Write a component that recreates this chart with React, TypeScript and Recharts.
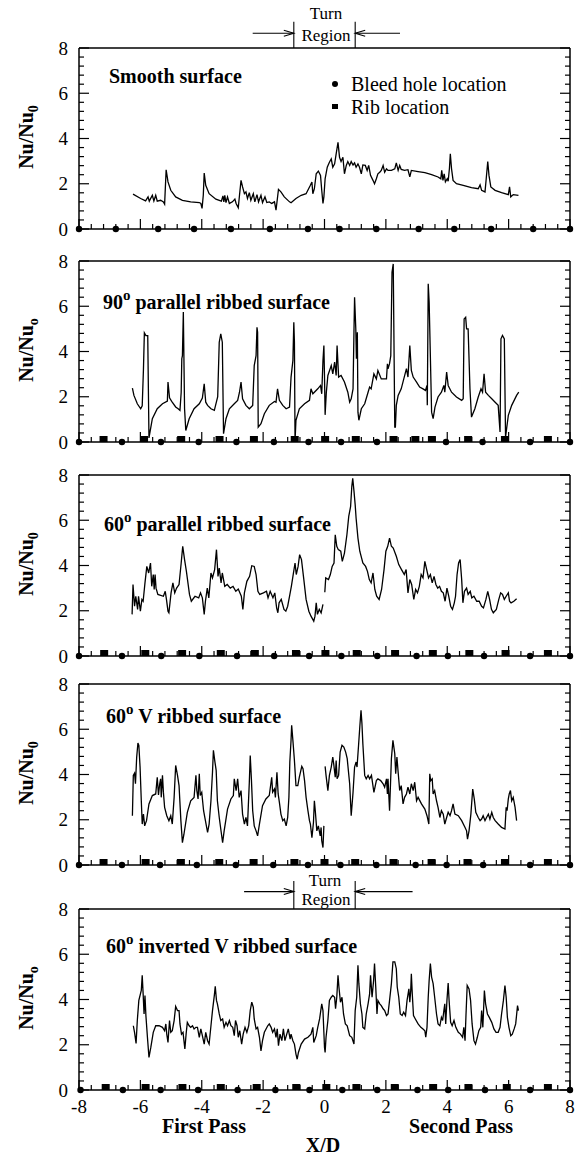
import React from "react";
import { ComposedChart, Line, Scatter, XAxis, YAxis, ReferenceLine } from "recharts";

const FONT = '"Liberation Serif", "Times New Roman", Times, serif';

const PAGE_W = 579;
const PAGE_H = 1157;
const LEFT = 79;
const RIGHT = 9;
const PLOT_H = 181;

const X_LABELS = [-8, -6, -4, -2, 0, 2, 4, 6, 8];
const Y_LABELS = [0, 2, 4, 6, 8];
// minor ticks every 0.4, long ticks every 2
const X_TICKS = Array.from({ length: 41 }, (_, i) => Math.round((-8 + i * 0.4) * 10) / 10);
const Y_TICKS = Array.from({ length: 21 }, (_, i) => Math.round(i * 0.4 * 10) / 10);

// Nu/Nu0 along X/D (null = break in the trace)
const SMOOTH = [
  [-6.24,1.54],[-5.99,1.35],[-5.83,1.24],[-5.75,1.42],[-5.71,1.23],[-5.61,1.49],[-5.56,1.24],[-5.5,1.49],[-5.45,1.23],[-5.34,1.27],[-5.25,1.2],[-5.21,1.1],[-5.16,2.62],[-5.1,2.08],[-5.01,1.71],[-4.85,1.42],[-4.63,1.27],[-4.36,1.2],[-4.08,1.17],[-4.03,1.13],[-3.99,0.91],[-3.95,1.49],[-3.92,2.47],[-3.87,1.93],[-3.76,1.56],[-3.54,1.32],[-3.36,1.23],[-3.31,1.46],[-3.28,1.2],[-3.25,1.49],[-3.21,1.17],[-3.16,1.42],[-3.1,1.13],[-3.0,1.2],[-2.92,1.32],[-2.88,1.13],[-2.81,0.94],[-2.77,1.49],[-2.72,2.15],[-2.67,1.86],[-2.61,1.56],[-2.56,1.64],[-2.51,1.35],[-2.45,1.61],[-2.4,1.27],[-2.32,1.56],[-2.27,1.2],[-2.2,1.52],[-2.15,1.2],[-2.07,1.49],[-2.02,1.17],[-1.94,1.42],[-1.88,1.17],[-1.8,1.2],[-1.72,1.13],[-1.63,1.2],[-1.58,0.83],[-1.5,1.75],[-1.42,1.64],[-1.31,1.42],[-1.14,1.2],[-1.09,1.16],[-0.93,1.35],[-0.76,1.49],[-0.6,1.56],[-0.46,1.93],[-0.41,2.08],[-0.38,1.56],[-0.33,1.78],[-0.27,2.44],[-0.2,2.56],[-0.13,2.37],[-0.09,1.71],[-0.05,1.13],[-0.02,1.42],[0.02,2.22],[0.09,2.73],[0.16,2.95],[0.22,3.1],[0.27,2.73],[0.33,2.88],[0.38,3.32],[0.44,3.83],[0.49,3.17],[0.54,2.98],[0.6,3.17],[0.65,2.44],[0.71,2.81],[0.76,2.98],[0.82,2.81],[0.87,2.98],[0.93,2.83],[0.98,2.92],[1.03,2.73],[1.09,2.88],[1.14,2.73],[1.2,2.44],[1.25,2.83],[1.33,2.81],[1.39,2.59],[1.44,2.81],[1.5,2.37],[1.58,2.15],[1.63,2.0],[1.69,2.22],[1.74,2.44],[1.8,2.51],[1.85,2.59],[1.91,2.81],[1.96,2.51],[2.02,2.66],[2.07,2.59],[2.18,2.59],[2.29,2.66],[2.34,2.92],[2.4,2.59],[2.45,2.81],[2.5,2.63],[2.61,2.59],[2.72,2.62],[2.78,2.3],[2.83,2.59],[3.05,2.54],[3.27,2.49],[3.49,2.4],[3.7,2.3],[3.79,2.22],[3.82,2.59],[3.86,2.15],[3.9,2.44],[3.94,2.08],[4.0,2.22],[4.03,2.11],[4.07,2.66],[4.1,3.32],[4.14,2.66],[4.19,2.15],[4.3,2.0],[4.52,1.93],[4.79,1.83],[5.01,1.78],[5.07,1.95],[5.12,1.71],[5.23,1.64],[5.27,2.22],[5.32,2.98],[5.36,2.37],[5.42,1.86],[5.56,1.71],[5.77,1.61],[5.99,1.52],[6.03,1.86],[6.07,1.42],[6.15,1.52],[6.32,1.49],
];

const RIB90 = [
  [-6.26,2.38],[-6.21,2.06],[-6.1,1.69],[-5.99,1.47],[-5.94,1.6],[-5.9,3.2],[-5.87,4.82],[-5.82,4.7],[-5.76,4.7],[-5.72,0.18],[-5.61,1.03],[-5.45,1.47],[-5.28,1.69],[-5.12,1.81],[-5.1,2.65],[-5.05,1.95],[-4.98,1.8],[-4.85,1.55],[-4.77,1.47],[-4.71,1.4],[-4.67,2.2],[-4.65,3.68],[-4.63,3.82],[-4.6,5.74],[-4.56,1.47],[-4.52,0.51],[-4.41,1.03],[-4.25,1.47],[-4.08,1.69],[-3.98,1.94],[-3.92,2.57],[-3.87,1.76],[-3.81,1.62],[-3.7,1.47],[-3.59,1.4],[-3.48,2.0],[-3.43,4.41],[-3.38,4.78],[-3.33,4.41],[-3.29,0.37],[-3.21,1.03],[-3.1,1.47],[-2.94,1.69],[-2.83,1.84],[-2.77,2.2],[-2.72,2.65],[-2.67,1.91],[-2.56,1.62],[-2.45,1.47],[-2.34,1.62],[-2.29,3.38],[-2.23,3.82],[-2.2,5.07],[-2.18,4.85],[-2.16,0.66],[-2.07,0.81],[-1.96,1.25],[-1.8,1.62],[-1.63,1.79],[-1.58,1.76],[-1.53,2.35],[-1.47,1.84],[-1.36,1.62],[-1.25,1.47],[-1.14,1.54],[-1.09,2.87],[-1.03,3.6],[-1.0,5.29],[-0.98,4.41],[-0.96,0.05],[-0.93,0.96],[-0.82,1.47],[-0.65,1.69],[-0.49,1.84],[-0.44,2.35],[-0.38,2.13],[-0.33,2.2],[-0.22,2.35],[-0.13,2.5],[-0.09,2.13],[-0.05,3.6],[-0.02,4.26],[0.0,2.9],[0.02,1.2],[0.06,2.2],[0.11,2.94],[0.22,3.38],[0.27,3.01],[0.33,3.53],[0.38,2.94],[0.41,4.26],[0.46,2.87],[0.54,2.94],[0.65,2.65],[0.76,2.2],[0.82,1.76],[0.87,1.91],[0.93,2.35],[0.96,4.85],[0.98,6.4],[1.02,5.0],[1.04,3.68],[1.07,4.85],[1.09,1.32],[1.12,0.96],[1.2,1.47],[1.31,1.69],[1.42,2.2],[1.47,2.43],[1.52,2.35],[1.61,3.01],[1.69,2.79],[1.74,3.16],[1.85,2.79],[2.02,2.79],[2.05,3.46],[2.07,3.24],[2.12,3.46],[2.16,3.82],[2.2,7.5],[2.24,7.87],[2.29,0.66],[2.31,0.66],[2.34,1.62],[2.4,2.06],[2.5,2.35],[2.67,3.24],[2.72,2.87],[2.78,4.26],[2.83,3.16],[2.89,2.87],[3.0,2.65],[3.1,2.43],[3.21,2.35],[3.29,2.28],[3.34,2.5],[3.35,1.62],[3.38,6.99],[3.41,6.18],[3.43,5.0],[3.49,1.32],[3.54,1.03],[3.6,1.54],[3.7,1.99],[3.81,2.2],[3.89,2.5],[3.92,2.2],[3.98,3.09],[4.03,2.5],[4.14,2.2],[4.3,1.99],[4.47,1.84],[4.52,1.91],[4.55,5.44],[4.6,5.51],[4.63,5.0],[4.68,5.0],[4.74,2.35],[4.79,1.1],[4.9,1.47],[5.01,1.99],[5.1,2.35],[5.15,2.2],[5.2,3.01],[5.25,2.2],[5.34,2.06],[5.45,1.91],[5.56,1.76],[5.66,1.62],[5.72,0.44],[5.75,4.56],[5.8,4.71],[5.86,4.56],[5.9,0.22],[5.99,1.18],[6.1,1.62],[6.26,2.06],[6.33,2.2],
];

const RIB60 = [
  [-6.27,1.84],[-6.24,3.16],[-6.19,2.2],[-6.15,2.64],[-6.09,2.06],[-6.06,2.64],[-6.0,1.98],[-5.95,2.5],[-5.91,2.42],[-5.85,3.23],[-5.79,3.96],[-5.73,3.67],[-5.67,4.11],[-5.63,3.08],[-5.58,3.6],[-5.55,2.94],[-5.52,3.6],[-5.49,3.0],[-5.43,2.72],[-5.25,2.64],[-5.19,2.86],[-5.15,2.5],[-5.1,1.98],[-5.07,1.91],[-5.0,2.79],[-4.94,3.23],[-4.88,2.79],[-4.82,3.0],[-4.74,3.16],[-4.67,4.11],[-4.62,4.85],[-4.56,4.26],[-4.5,3.74],[-4.4,2.72],[-4.34,2.42],[-4.22,2.64],[-4.1,2.57],[-4.04,2.79],[-3.98,2.57],[-3.92,1.84],[-3.88,2.42],[-3.82,3.0],[-3.77,2.57],[-3.7,3.67],[-3.65,3.45],[-3.58,3.82],[-3.52,4.7],[-3.47,3.52],[-3.43,3.89],[-3.37,3.23],[-3.33,3.67],[-3.25,3.08],[-3.17,3.16],[-3.07,3.0],[-2.98,3.08],[-2.89,2.86],[-2.81,2.96],[-2.71,2.64],[-2.66,2.06],[-2.61,2.79],[-2.53,3.3],[-2.44,3.52],[-2.37,3.99],[-2.29,3.96],[-2.23,3.6],[-2.17,2.86],[-2.11,2.72],[-1.99,2.79],[-1.89,2.86],[-1.84,2.57],[-1.77,2.86],[-1.68,2.57],[-1.62,2.79],[-1.56,2.13],[-1.52,1.91],[-1.48,2.35],[-1.41,2.5],[-1.32,2.06],[-1.26,1.98],[-1.2,2.2],[-1.14,2.64],[-1.08,3.08],[-1.02,3.6],[-0.96,4.11],[-0.92,3.6],[-0.86,3.96],[-0.81,4.48],[-0.75,4.26],[-0.68,3.45],[-0.6,2.5],[-0.51,1.98],[-0.44,1.76],[-0.35,1.54],[-0.31,1.76],[-0.27,2.35],[-0.23,1.84],[-0.17,2.06],[-0.11,1.91],[-0.05,2.28],[0,null],
  [0.01,2.82],[0.04,3.45],[0.13,3.38],[0.19,3.6],[0.25,3.96],[0.31,4.11],[0.35,5.36],[0.4,4.85],[0.45,4.7],[0.53,4.63],[0.58,4.18],[0.65,4.55],[0.73,5.36],[0.79,6.17],[0.85,6.6],[0.89,7.5],[0.92,7.85],[0.96,7.3],[1.0,6.68],[1.03,6.09],[1.09,5.21],[1.15,4.63],[1.25,4.11],[1.34,3.96],[1.4,3.74],[1.46,3.38],[1.52,3.23],[1.58,3.67],[1.64,2.94],[1.7,2.64],[1.78,2.5],[1.86,2.94],[1.94,3.82],[2.0,4.63],[2.06,4.85],[2.12,5.21],[2.18,4.85],[2.24,4.77],[2.34,4.41],[2.42,4.04],[2.51,3.82],[2.6,3.6],[2.66,3.82],[2.72,2.79],[2.78,3.38],[2.84,3.16],[2.91,2.5],[2.97,2.94],[3.03,2.79],[3.09,3.08],[3.15,3.6],[3.21,3.45],[3.27,4.18],[3.33,3.82],[3.39,3.45],[3.45,3.6],[3.51,3.23],[3.57,3.52],[3.63,3.16],[3.69,3.0],[3.75,3.08],[3.81,2.86],[3.87,2.79],[3.93,2.42],[3.99,3.0],[4.05,2.64],[4.11,2.2],[4.17,2.06],[4.23,2.35],[4.27,2.64],[4.32,3.6],[4.37,4.11],[4.42,4.26],[4.47,3.38],[4.51,2.35],[4.56,2.86],[4.63,3.0],[4.68,2.72],[4.75,2.86],[4.8,2.57],[4.87,2.64],[4.96,2.42],[5.04,2.42],[5.12,2.2],[5.18,2.13],[5.26,2.5],[5.32,2.86],[5.38,2.5],[5.44,2.06],[5.5,1.91],[5.6,2.06],[5.68,2.5],[5.74,2.79],[5.8,2.72],[5.86,2.5],[5.92,2.64],[5.99,2.79],[6.03,2.42],[6.08,2.35],[6.17,2.42],[6.26,2.53],
];

const VRIB = [
  [-6.26,2.18],[-6.23,3.96],[-6.19,4.06],[-6.16,3.59],[-6.12,4.77],[-6.08,5.39],[-6.05,5.29],[-6.01,4.33],[-5.97,2.84],[-5.94,1.81],[-5.9,2.25],[-5.86,1.73],[-5.8,1.96],[-5.72,2.7],[-5.61,3.07],[-5.5,3.14],[-5.45,3.88],[-5.41,3.1],[-5.37,3.59],[-5.34,3.81],[-5.32,2.99],[-5.28,3.96],[-5.25,3.22],[-5.21,2.55],[-5.14,2.18],[-5.07,1.96],[-5.01,2.18],[-4.96,1.81],[-4.9,2.99],[-4.85,4.4],[-4.79,3.96],[-4.74,3.51],[-4.68,1.96],[-4.63,0.99],[-4.58,1.36],[-4.47,2.33],[-4.36,2.84],[-4.25,2.99],[-4.19,3.96],[-4.16,3.29],[-4.12,2.92],[-4.08,4.03],[-4.05,3.07],[-4.0,3.21],[-3.94,2.4],[-3.9,2.1],[-3.81,1.44],[-3.76,1.81],[-3.7,2.84],[-3.65,4.1],[-3.62,5.07],[-3.57,4.55],[-3.53,4.18],[-3.49,2.84],[-3.43,2.1],[-3.38,1.59],[-3.32,0.99],[-3.27,1.51],[-3.16,2.47],[-3.05,2.92],[-2.97,3.07],[-2.94,3.81],[-2.88,3.29],[-2.83,3.81],[-2.78,2.99],[-2.72,3.29],[-2.67,2.25],[-2.61,1.81],[-2.56,2.1],[-2.51,1.73],[-2.45,3.66],[-2.42,4.84],[-2.38,3.73],[-2.34,2.4],[-2.29,1.73],[-2.23,1.51],[-2.18,1.29],[-2.12,1.81],[-2.02,2.62],[-1.91,2.92],[-1.8,3.07],[-1.72,3.88],[-1.69,3.22],[-1.63,3.36],[-1.6,2.99],[-1.55,4.1],[-1.51,3.14],[-1.47,2.77],[-1.42,2.25],[-1.36,1.96],[-1.31,2.03],[-1.25,1.73],[-1.2,2.1],[-1.16,2.99],[-1.13,4.55],[-1.09,5.51],[-1.07,6.18],[-1.03,5.51],[-0.98,4.62],[-0.93,3.51],[-0.87,3.51],[-0.82,3.88],[-0.74,4.36],[-0.7,4.26],[-0.65,3.73],[-0.6,2.99],[-0.54,2.4],[-0.49,1.96],[-0.46,1.81],[-0.41,1.21],[-0.36,1.88],[-0.33,2.84],[-0.3,2.4],[-0.25,1.51],[-0.2,1.73],[-0.14,1.29],[-0.11,1.66],[-0.09,1.07],[-0.05,0.77],[-0.02,1.73],[0,null],
  [0.02,4.36],[0.05,3.96],[0.11,3.29],[0.16,3.96],[0.22,4.33],[0.27,4.77],[0.3,4.47],[0.35,3.88],[0.38,4.62],[0.41,3.81],[0.46,3.96],[0.51,4.99],[0.57,5.29],[0.63,5.21],[0.69,4.99],[0.74,4.7],[0.82,3.59],[0.87,2.18],[0.93,3.21],[0.98,4.33],[1.03,4.55],[1.06,4.33],[1.11,5.29],[1.15,6.1],[1.19,6.84],[1.22,6.25],[1.25,5.36],[1.31,3.96],[1.36,3.81],[1.42,3.96],[1.47,3.81],[1.53,3.96],[1.61,3.21],[1.69,3.73],[1.74,3.81],[1.83,3.73],[1.91,3.59],[1.96,3.44],[2.02,3.81],[2.05,3.14],[2.07,3.81],[2.12,2.4],[2.18,4.7],[2.23,5.51],[2.29,4.92],[2.32,4.03],[2.36,4.77],[2.4,4.1],[2.45,3.29],[2.5,3.51],[2.56,2.7],[2.61,2.99],[2.67,3.14],[2.72,3.44],[2.78,3.14],[2.83,3.59],[2.89,3.29],[2.94,3.66],[3.0,2.84],[3.05,2.99],[3.16,2.7],[3.27,2.47],[3.34,2.18],[3.4,1.81],[3.43,4.03],[3.46,3.73],[3.51,3.81],[3.54,3.14],[3.59,3.29],[3.65,2.84],[3.7,2.55],[3.76,2.1],[3.81,2.4],[3.87,2.25],[3.92,1.81],[3.98,2.1],[4.03,2.33],[4.09,2.18],[4.14,2.4],[4.19,2.7],[4.25,2.25],[4.36,2.18],[4.47,1.96],[4.58,1.66],[4.63,1.51],[4.66,1.14],[4.71,1.51],[4.77,2.25],[4.83,3.36],[4.88,2.92],[4.93,2.33],[5.01,2.1],[5.07,1.96],[5.12,2.03],[5.17,2.18],[5.23,1.96],[5.28,2.1],[5.34,2.25],[5.39,2.03],[5.45,2.33],[5.5,2.1],[5.56,1.96],[5.66,1.81],[5.77,1.66],[5.88,1.59],[5.92,2.55],[5.95,2.4],[5.99,2.92],[6.02,3.14],[6.06,3.29],[6.1,2.84],[6.15,2.99],[6.21,2.55],[6.26,1.96],
];

const INVRIB = [
  [-6.23,2.84],[-6.19,2.55],[-6.14,2.06],[-6.1,3.07],[-6.05,3.96],[-6.01,4.18],[-5.97,4.4],[-5.94,5.07],[-5.91,4.25],[-5.88,3.36],[-5.85,4.18],[-5.82,3.29],[-5.77,2.33],[-5.72,1.44],[-5.66,1.88],[-5.58,2.55],[-5.5,2.84],[-5.39,2.84],[-5.28,2.77],[-5.21,2.62],[-5.17,2.92],[-5.14,2.47],[-5.1,2.1],[-5.05,3.07],[-5.01,2.55],[-4.96,2.62],[-4.9,3.07],[-4.85,3.69],[-4.79,3.51],[-4.74,3.51],[-4.71,2.92],[-4.66,2.47],[-4.61,2.55],[-4.55,1.81],[-4.51,2.47],[-4.47,2.99],[-4.41,2.84],[-4.36,2.77],[-4.3,2.84],[-4.25,2.7],[-4.19,2.77],[-4.14,2.77],[-4.08,2.33],[-4.03,2.7],[-3.98,2.4],[-3.92,2.03],[-3.87,2.55],[-3.81,2.18],[-3.76,2.03],[-3.7,2.84],[-3.65,3.51],[-3.59,4.18],[-3.56,4.58],[-3.52,3.96],[-3.49,3.81],[-3.43,3.36],[-3.38,3.07],[-3.32,3.14],[-3.27,2.77],[-3.21,2.99],[-3.16,2.84],[-3.1,3.07],[-3.05,2.84],[-2.99,2.77],[-2.94,2.4],[-2.9,3.07],[-2.85,2.84],[-2.81,2.33],[-2.76,2.62],[-2.7,2.03],[-2.65,2.47],[-2.59,2.77],[-2.53,2.55],[-2.47,2.84],[-2.42,3.51],[-2.37,3.88],[-2.32,3.66],[-2.29,3.14],[-2.23,2.7],[-2.18,2.77],[-2.12,2.33],[-2.07,1.73],[-2.02,2.18],[-1.96,2.55],[-1.85,2.84],[-1.8,2.92],[-1.74,2.77],[-1.69,2.55],[-1.63,2.7],[-1.58,2.33],[-1.54,2.7],[-1.5,1.96],[-1.45,2.47],[-1.39,2.18],[-1.34,2.7],[-1.29,2.18],[-1.23,2.47],[-1.18,2.7],[-1.12,2.25],[-1.09,2.47],[-1.03,2.18],[-0.98,2.03],[-0.93,1.59],[-0.89,1.36],[-0.85,1.66],[-0.76,2.03],[-0.65,2.25],[-0.54,2.33],[-0.44,2.47],[-0.38,2.77],[-0.35,2.1],[-0.27,2.4],[-0.22,2.77],[-0.16,3.14],[-0.09,3.81],[-0.05,3.51],[0.0,1.88],[0.02,1.66],[0.05,2.33],[0.11,3.07],[0.16,3.96],[0.22,4.1],[0.27,4.18],[0.33,4.1],[0.36,3.59],[0.4,4.1],[0.44,5.07],[0.47,4.55],[0.52,3.88],[0.57,4.1],[0.62,3.36],[0.68,2.92],[0.74,2.84],[0.82,2.4],[0.89,2.33],[0.96,2.03],[1.0,3.51],[1.05,4.1],[1.09,5.51],[1.12,4.7],[1.17,3.81],[1.22,3.36],[1.25,2.77],[1.31,2.7],[1.36,3.36],[1.42,3.81],[1.47,4.25],[1.5,5.07],[1.55,4.1],[1.6,4.84],[1.63,5.59],[1.67,4.55],[1.71,3.36],[1.74,3.96],[1.8,3.81],[1.85,3.73],[1.91,3.59],[1.96,3.51],[2.02,3.29],[2.07,3.36],[2.12,3.96],[2.18,4.7],[2.23,5.66],[2.29,5.66],[2.34,5.36],[2.37,4.55],[2.42,4.1],[2.47,3.36],[2.53,3.29],[2.58,3.44],[2.64,3.29],[2.69,3.96],[2.75,4.47],[2.78,3.88],[2.81,4.4],[2.83,5.14],[2.86,4.25],[2.9,3.29],[2.96,3.14],[3.05,2.92],[3.14,2.77],[3.21,2.7],[3.27,2.62],[3.3,2.33],[3.34,2.77],[3.38,4.1],[3.41,4.84],[3.45,5.59],[3.49,4.99],[3.54,4.7],[3.59,4.1],[3.65,3.36],[3.7,2.92],[3.76,2.84],[3.81,3.21],[3.85,3.07],[3.89,3.51],[3.92,3.81],[3.95,2.92],[3.99,3.96],[4.03,4.73],[4.06,3.96],[4.11,2.99],[4.16,2.84],[4.22,3.07],[4.28,2.77],[4.36,2.55],[4.43,2.47],[4.5,2.33],[4.54,2.77],[4.58,2.18],[4.61,3.29],[4.65,4.62],[4.71,4.47],[4.76,3.96],[4.81,2.92],[4.87,2.18],[4.92,2.03],[4.98,2.33],[5.03,2.62],[5.09,2.77],[5.12,3.51],[5.16,2.77],[5.21,4.4],[5.25,3.81],[5.31,3.36],[5.37,3.21],[5.45,2.99],[5.52,2.7],[5.59,2.55],[5.66,2.55],[5.72,2.77],[5.77,3.36],[5.83,3.96],[5.88,4.62],[5.92,4.1],[5.96,3.21],[6.01,2.77],[6.07,2.4],[6.12,2.47],[6.18,2.7],[6.23,2.92],[6.29,3.73],[6.32,3.51],
];

// bleed hole and rib positions (X/D) marked on the axis
const HOLES_1 = [-8, -6.8, -5.42, -4.25, -3.05, -1.78, -0.54, 0.49, 1.69, 3.07, 4.23, 5.43, 6.8, 8];
const HOLES_2 = [-8, -6.6, -5.33, -4.1, -2.87, -1.65, -0.52, 0.54, 1.71, 3.96, 5.15, 6.7, 8];
const RIBS_2 = [-7.2, -5.88, -4.67, -3.42, -2.3, -0.97, 0.02, 1.02, 2.25, 2.96, 3.5, 4.68, 5.88, 7.28];
const HOLES_3 = [-8, -6.6, -5.32, -4.08, -2.85, -1.64, -0.5, 0.55, 1.72, 3.0, 4.02, 5.2, 6.7, 8];
const RIBS_3 = [-7.18, -5.84, -4.64, -3.38, -2.27, -0.93, 0.03, 1.05, 2.3, 3.53, 4.72, 5.9, 7.28];
const HOLES_4 = [-8, -6.6, -5.36, -4.16, -2.89, -1.67, -0.54, 0.52, 1.69, 2.97, 3.98, 5.17, 6.7, 8];
const RIBS_4 = [-7.2, -5.83, -4.68, -3.43, -2.31, -0.98, 0, 1.0, 2.25, 3.49, 4.66, 5.88, 7.28];
const HOLES_5 = [-7.95, -6.57, -5.34, -4.12, -2.83, -1.6, -0.49, 0.58, 1.72, 3.03, 4.03, 5.23, 6.7, 8];
const RIBS_5 = [-7.13, -5.83, -4.63, -3.38, -2.21, -0.92, 0.06, 1.04, 2.29, 3.54, 4.69, 5.94, 7.28];

// turn region bracket: edges, bracket top, arrow height, arrow tails
const TURN_EDGES = [-1, 1];
const TURN_TOP = { lineTop: 9.16, arrowY: 8.65, tails: [-2.34, 2.46] };
const TURN_BOTTOM = { lineTop: 9.24, arrowY: 8.77, tails: [-2.62, 2.87] };

const AXIS = { stroke: "#000", strokeWidth: 1.5 };
const isMajor = (v: number) => Math.abs(v / 2 - Math.round(v / 2)) < 1e-6;

function makeTick(side: string, labels?: number[]) {
  return (props: any) => {
    const { x, y, payload } = props;
    const v = payload.value;
    const len = isMajor(v) ? 10 : 5;
    const lab = labels && labels.includes(v);
    const txt = { fontFamily: FONT, fontSize: 19, fill: "#000" };
    if (side === "bottom")
      return (
        <g>
          <line x1={x} x2={x} y1={y} y2={y - len} stroke="#000" strokeWidth={1.2} />
          {lab && <text x={x} y={y + 16} textAnchor="middle" dominantBaseline="central" {...txt}>{v}</text>}
        </g>
      );
    if (side === "top") return <line x1={x} x2={x} y1={y} y2={y + len} stroke="#000" strokeWidth={1.2} />;
    if (side === "left")
      return (
        <g>
          <line x1={x} x2={x + len} y1={y} y2={y} stroke="#000" strokeWidth={1.2} />
          {lab && <text x={x - 11} y={y} textAnchor="end" dominantBaseline="central" {...txt}>{v}</text>}
        </g>
      );
    return <line x1={x} x2={x - len} y1={y} y2={y} stroke="#000" strokeWidth={1.2} />;
  };
}

const holeShape = (p: any) => <circle cx={p.cx} cy={p.cy} r={3.2} fill="#000" />;
const ribShape = (p: any) => <rect x={p.cx - 4} y={p.cy - 6} width={8} height={6} fill="#000" />;

const arrowShape = (p: any) => {
  const { x1, y1, x2, y2 } = p;
  const d = x2 > x1 ? 1 : -1;
  return (
    <g>
      <line x1={x1} y1={y1} x2={x2} y2={y2} stroke="#000" strokeWidth={1.1} />
      <path d={`M${x2 - d * 10},${y2 - 3} L${x2},${y2} L${x2 - d * 10},${y2 + 3}`} fill="none" stroke="#000" strokeWidth={1.1} />
    </g>
  );
};

function turnMarks(t: { lineTop: number; arrowY: number; tails: number[] }) {
  return [
    ...TURN_EDGES.map((e) => (
      <ReferenceLine key={"e" + e} segment={[{ x: e, y: 8 }, { x: e, y: t.lineTop }]} stroke="#000" strokeWidth={1.1} ifOverflow="visible" />
    )),
    ...t.tails.map((s, i) => (
      <ReferenceLine key={"a" + i} segment={[{ x: s, y: t.arrowY }, { x: TURN_EDGES[i], y: t.arrowY }]} ifOverflow="visible" shape={arrowShape} />
    )),
  ];
}

function Panel(props: any) {
  const { plotTop, padTop, padBot, curve, holes, ribs, xLabels, extra } = props;
  const data = curve.map((p: any) => ({ x: p[0], y: p[1] }));
  return (
    <div style={{ position: "absolute", left: 0, top: plotTop - padTop }}>
      <ComposedChart width={PAGE_W} height={padTop + PLOT_H + padBot} margin={{ top: 0, right: 0, bottom: 0, left: 0 }}>
        <XAxis dataKey="x" type="number" domain={[-8, 8]} ticks={X_TICKS} interval={0} height={padBot}
          tickSize={0} tickMargin={0} tickLine={false} axisLine={AXIS} tick={makeTick("bottom", xLabels ? X_LABELS : undefined)} />
        <XAxis xAxisId="t" orientation="top" type="number" domain={[-8, 8]} ticks={X_TICKS} interval={0} height={padTop}
          tickSize={0} tickMargin={0} tickLine={false} axisLine={AXIS} tick={makeTick("top")} allowDataOverflow />
        <YAxis type="number" domain={[0, 8]} ticks={Y_TICKS} interval={0} width={LEFT}
          tickSize={0} tickMargin={0} tickLine={false} axisLine={AXIS} tick={makeTick("left", Y_LABELS)} />
        <YAxis yAxisId="r" orientation="right" type="number" domain={[0, 8]} ticks={Y_TICKS} interval={0} width={RIGHT}
          tickSize={0} tickMargin={0} tickLine={false} axisLine={AXIS} tick={makeTick("right")} allowDataOverflow />
        <Line data={data} dataKey="y" stroke="#000" strokeWidth={1.3} dot={false} activeDot={false}
          connectNulls={false} isAnimationActive={false} />
        <Scatter data={holes.map((x: number) => ({ x, y: 0 }))} dataKey="y" shape={holeShape} isAnimationActive={false} />
        {ribs.length > 0 && (
          <Scatter data={ribs.map((x: number) => ({ x, y: 0 }))} dataKey="y" shape={ribShape} isAnimationActive={false} />
        )}
        {extra}
      </ComposedChart>
    </div>
  );
}

const abs = (s: any): React.CSSProperties => ({ position: "absolute", whiteSpace: "nowrap", ...s });

function Title({ left, baseline, deg, text }: any) {
  return (
    <div style={abs({ left, top: baseline - 16.75, fontSize: 20, lineHeight: "20px", fontWeight: "bold" })}>
      {deg ? (
        <>
          {deg}
          <span style={{ fontSize: 15, position: "relative", top: -9 }}>o</span>
          {" " + text}
        </>
      ) : text}
    </div>
  );
}

function YTitle({ cy, sub }: any) {
  return (
    <div style={abs({ left: 26, top: cy, transform: "translate(-50%,-50%) rotate(-90deg)", fontSize: 20, lineHeight: "22px", fontWeight: "bold" })}>
      Nu/Nu<sub style={{ fontSize: 14, lineHeight: 0 }}>{sub}</sub>
    </div>
  );
}

function Center({ x, y, size, bold, children }: any) {
  return (
    <div style={abs({ left: x, top: y, transform: "translate(-50%,-50%)", fontSize: size, lineHeight: "1", fontWeight: bold ? "bold" : "normal" })}>
      {children}
    </div>
  );
}

const TOPS = [48, 261, 475, 684, 909];

export default function App() {
  return (
    <div style={{ position: "absolute", left: 0, top: 0, width: PAGE_W, height: PAGE_H, background: "#fff", fontFamily: FONT, color: "#000" }}>
      <Panel plotTop={TOPS[0]} padTop={48} padBot={20} curve={SMOOTH} holes={HOLES_1} ribs={[]} extra={turnMarks(TURN_TOP)} />
      <Panel plotTop={TOPS[1]} padTop={28} padBot={20} curve={RIB90} holes={HOLES_2} ribs={RIBS_2} />
      <Panel plotTop={TOPS[2]} padTop={28} padBot={20} curve={RIB60} holes={HOLES_3} ribs={RIBS_3} />
      <Panel plotTop={TOPS[3]} padTop={28} padBot={20} curve={VRIB} holes={HOLES_4} ribs={RIBS_4} />
      <Panel plotTop={TOPS[4]} padTop={36} padBot={34} curve={INVRIB} holes={HOLES_5} ribs={RIBS_5} xLabels extra={turnMarks(TURN_BOTTOM)} />

      <Center x={326} y={12.5} size={17}>Turn</Center>
      <Center x={326} y={35} size={17}>Region</Center>
      <Center x={325} y={879.5} size={17}>Turn</Center>
      <Center x={326} y={898.5} size={17}>Region</Center>

      <Title left={109} baseline={82.5} text="Smooth surface" />
      <Title left={103} baseline={309} deg="90" text="parallel ribbed surface" />
      <Title left={104} baseline={531} deg="60" text="parallel ribbed surface" />
      <Title left={106} baseline={723} deg="60" text="V ribbed surface" />
      <Title left={106} baseline={953} deg="60" text="inverted V ribbed surface" />

      <div style={abs({ left: 332, top: 80.5, width: 6, height: 6, borderRadius: 3, background: "#000" })} />
      <div style={abs({ left: 332, top: 104, width: 6, height: 5, background: "#000" })} />
      <div style={abs({ left: 351, top: 90.5 - 16.75, fontSize: 20, lineHeight: "20px" })}>Bleed hole location</div>
      <div style={abs({ left: 351, top: 114 - 16.75, fontSize: 20, lineHeight: "20px" })}>Rib location</div>

      <YTitle cy={TOPS[0] + PLOT_H / 2 - 2} sub="0" />
      <YTitle cy={TOPS[1] + PLOT_H / 2 - 2} sub="o" />
      <YTitle cy={TOPS[2] + PLOT_H / 2 - 2} sub="0" />
      <YTitle cy={TOPS[3] + PLOT_H / 2 - 2} sub="0" />
      <YTitle cy={TOPS[4] + PLOT_H / 2 - 2} sub="o" />

      <Center x={204} y={1126} size={20} bold>First Pass</Center>
      <Center x={461} y={1126} size={20} bold>Second Pass</Center>
      <Center x={323} y={1145} size={20} bold>X/D</Center>
    </div>
  );
}
